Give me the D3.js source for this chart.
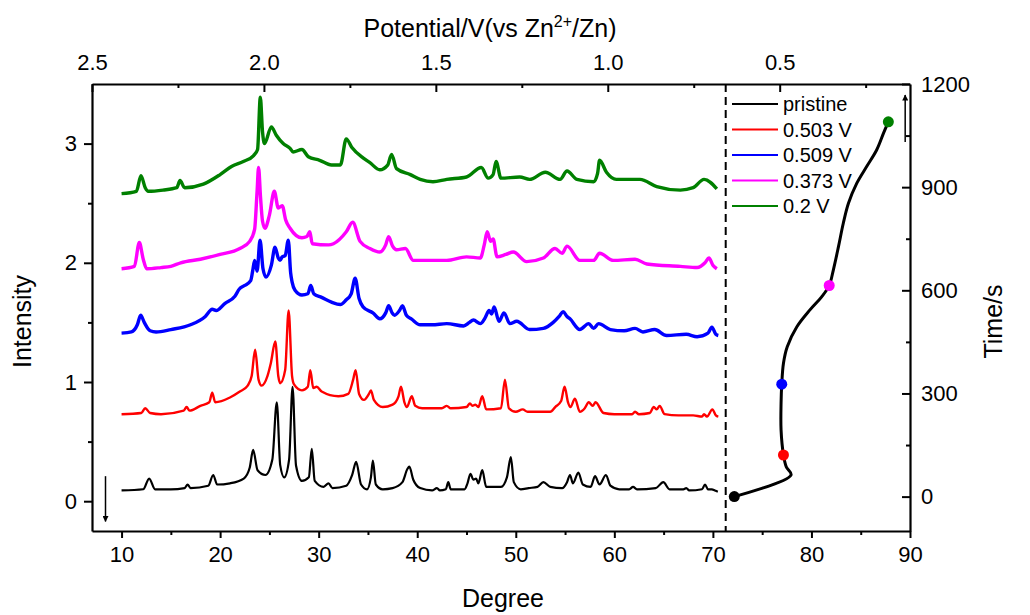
<!DOCTYPE html>
<html>
<head>
<meta charset="utf-8">
<script src="https://cdn.jsdelivr.net/npm/d3@7"></script>
<style>
  html, body { margin: 0; padding: 0; background: #fff; }
  svg { display: block; font-family: "Liberation Sans", Arial, sans-serif; }
</style>
</head>
<body>
<svg id="chart" width="1030" height="615"></svg>
<script>
// ---------------- DATA ----------------
const seriesNames = ["pristine", "0.503 V", "0.509 V", "0.373 V", "0.2 V"];
const seriesColors = ["#000000", "#ff0000", "#0000ff", "#ff00ff", "#008000"];

// [degree, intensity]
const pristine = [[10,0.09],[12.2,0.10],[12.8,0.19],[13.4,0.10],[15,0.10],[16.4,0.11],[16.7,0.14],[17,0.11],[18.8,0.13],[19.3,0.22],[19.7,0.14],[21,0.15],[22.4,0.19],[23.0,0.28],[23.35,0.43],[23.8,0.26],[24.6,0.22],[25.3,0.35],[25.75,0.83],[26.1,0.30],[26.5,0.20],[27.0,0.35],[27.35,0.96],[27.7,0.30],[28.3,0.17],[29.0,0.20],[29.3,0.44],[29.6,0.17],[30.5,0.12],[31.0,0.15],[31.4,0.11],[32.8,0.13],[33.4,0.22],[33.8,0.33],[34.3,0.14],[34.9,0.10],[35.3,0.20],[35.5,0.34],[35.8,0.14],[36.5,0.10],[37.5,0.11],[38.5,0.16],[39.0,0.27],[39.2,0.29],[39.6,0.18],[40.3,0.11],[41.5,0.09],[42.0,0.11],[42.3,0.09],[42.9,0.10],[43.15,0.16],[43.4,0.10],[44.8,0.10],[45.1,0.15],[45.4,0.23],[45.7,0.18],[45.97,0.19],[46.2,0.15],[46.6,0.26],[47.0,0.12],[48.5,0.12],[49.1,0.20],[49.5,0.37],[49.8,0.16],[50.5,0.10],[51.3,0.11],[52.2,0.12],[52.8,0.16],[53.5,0.12],[54.7,0.11],[55.2,0.16],[55.5,0.22],[55.8,0.15],[56.35,0.24],[56.8,0.14],[57.6,0.12],[58.04,0.21],[58.5,0.14],[59.15,0.22],[59.6,0.13],[60.5,0.10],[61.5,0.10],[61.9,0.12],[62.3,0.10],[64.2,0.11],[64.97,0.16],[65.6,0.10],[67.0,0.10],[67.3,0.11],[67.6,0.09],[68.9,0.10],[69.2,0.14],[69.5,0.10],[69.9,0.10],[70.2,0.09],[70.5,0.08]];

const v0503 = [[10,0.73],[12.0,0.74],[12.4,0.78],[12.9,0.74],[14,0.73],[16.3,0.76],[16.6,0.79],[16.9,0.76],[18.0,0.80],[18.9,0.83],[19.2,0.91],[19.5,0.83],[21.0,0.87],[22.0,0.92],[22.8,0.97],[23.2,1.05],[23.55,1.27],[23.9,1.02],[24.2,0.97],[24.8,1.05],[25.15,1.16],[25.6,1.34],[25.9,1.05],[26.1,0.99],[26.6,1.10],[26.95,1.60],[27.3,1.05],[27.5,0.98],[28.3,0.93],[28.9,0.96],[29.15,1.10],[29.45,0.95],[29.8,0.96],[30.3,0.92],[32.0,0.88],[33.0,0.90],[33.5,1.02],[33.75,1.10],[34.1,0.90],[34.6,0.85],[35.1,0.90],[35.3,0.93],[35.6,0.85],[36.5,0.79],[37.5,0.81],[38.1,0.88],[38.35,0.96],[38.7,0.83],[38.95,0.79],[39.45,0.88],[39.8,0.80],[40.5,0.78],[42.5,0.78],[43.0,0.80],[43.4,0.78],[45.0,0.79],[45.35,0.82],[45.6,0.80],[45.9,0.81],[46.2,0.79],[46.6,0.88],[47.0,0.77],[48.5,0.78],[48.9,1.02],[49.3,0.78],[50.0,0.75],[50.7,0.77],[51.2,0.75],[53.5,0.75],[54.0,0.79],[54.6,0.84],[54.95,0.96],[55.3,0.83],[55.55,0.79],[56.0,0.86],[56.5,0.75],[57.0,0.78],[57.4,0.83],[57.8,0.80],[58.1,0.83],[58.9,0.74],[60.0,0.73],[61.8,0.73],[62.1,0.75],[62.5,0.73],[63.6,0.74],[64.0,0.79],[64.3,0.77],[64.6,0.80],[65.1,0.73],[66.5,0.72],[68.0,0.72],[68.9,0.71],[69.1,0.73],[69.4,0.71],[69.95,0.77],[70.3,0.72],[70.55,0.71]];

const v0509 = [[10,1.41],[11.0,1.42],[11.6,1.48],[11.94,1.56],[12.3,1.50],[12.9,1.43],[13.5,1.42],[15,1.44],[17,1.48],[18.5,1.55],[19.2,1.61],[19.6,1.60],[20.5,1.66],[21.5,1.72],[21.95,1.78],[22.5,1.81],[23.1,1.85],[23.3,1.93],[23.5,2.02],[23.75,1.93],[24.05,2.19],[24.35,1.95],[24.66,1.88],[25.2,1.98],[25.57,2.13],[25.9,2.04],[26.08,2.02],[26.3,2.05],[26.6,2.06],[26.92,2.19],[27.15,1.92],[27.3,1.84],[27.6,1.77],[28.3,1.73],[28.9,1.74],[29.2,1.81],[29.5,1.74],[30.3,1.71],[31.3,1.67],[32.2,1.65],[32.8,1.69],[33.3,1.74],[33.7,1.87],[34.1,1.70],[34.5,1.63],[35.5,1.58],[36.2,1.53],[36.8,1.58],[37.1,1.64],[37.45,1.58],[37.7,1.56],[38.2,1.60],[38.5,1.64],[38.9,1.56],[39.4,1.53],[40.3,1.48],[41.5,1.48],[43.0,1.49],[44.7,1.47],[45.3,1.50],[45.7,1.52],[46.4,1.49],[46.9,1.54],[47.3,1.60],[47.55,1.57],[47.8,1.63],[48.3,1.51],[48.8,1.58],[49.4,1.49],[50.1,1.51],[51.4,1.44],[52.8,1.45],[53.8,1.50],[54.4,1.55],[54.8,1.59],[55.2,1.55],[55.5,1.53],[56.5,1.44],[57.4,1.49],[57.9,1.45],[58.4,1.49],[59.6,1.44],[61.0,1.43],[62.1,1.45],[62.9,1.42],[64.1,1.44],[65.3,1.39],[67.3,1.40],[68.4,1.38],[69.5,1.41],[69.9,1.46],[70.3,1.40],[70.55,1.39]];

const v0373 = [[10,1.95],[11.3,1.97],[11.8,2.17],[12.2,2.03],[12.55,1.95],[14,1.96],[15,1.97],[16,2.00],[18,2.03],[20,2.07],[22,2.12],[23.0,2.18],[23.5,2.28],[23.75,2.60],[23.9,2.80],[24.1,2.55],[24.3,2.35],[24.55,2.29],[25.0,2.40],[25.5,2.60],[25.9,2.46],[26.3,2.48],[26.65,2.36],[27.1,2.29],[28.3,2.21],[28.8,2.22],[29.1,2.26],[29.35,2.16],[31.0,2.15],[31.5,2.16],[32.8,2.26],[33.45,2.34],[34.2,2.18],[35.2,2.12],[36.2,2.09],[36.8,2.15],[37.1,2.22],[37.5,2.14],[37.9,2.11],[38.8,2.12],[39.6,2.02],[41.0,2.02],[43.0,2.02],[45.0,2.05],[46.4,2.04],[46.8,2.15],[47.1,2.26],[47.45,2.18],[47.7,2.20],[48.1,2.05],[49.0,2.07],[49.75,2.09],[51.1,2.01],[52.8,2.04],[53.98,2.12],[54.7,2.08],[55.2,2.14],[56.5,2.02],[57.9,2.02],[58.5,2.08],[59.9,2.02],[62.1,2.03],[63.3,1.99],[66.7,1.97],[68.4,1.96],[69.2,2.00],[69.6,2.04],[70.0,1.98],[70.4,1.95]];

const v02 = [[10,2.58],[11.5,2.60],[11.97,2.73],[12.4,2.63],[12.7,2.60],[14.2,2.61],[15.6,2.63],[15.93,2.69],[16.4,2.63],[18.3,2.66],[20.0,2.74],[21.2,2.81],[22.35,2.85],[23.4,2.90],[23.8,2.95],[24.08,3.39],[24.3,3.10],[24.5,3.00],[25.2,3.14],[25.7,3.07],[26.4,3.00],[27.1,2.96],[27.4,2.93],[28.3,2.95],[28.95,2.89],[30.1,2.86],[31.3,2.82],[32.2,2.82],[32.8,3.04],[33.35,2.97],[34.5,2.88],[35.2,2.84],[36.2,2.78],[37.0,2.82],[37.4,2.91],[37.9,2.79],[39.3,2.74],[40.3,2.70],[41.6,2.68],[43.0,2.70],[45.0,2.72],[46.5,2.80],[47.2,2.71],[47.7,2.74],[48.0,2.85],[48.5,2.71],[50.4,2.72],[51.4,2.70],[53.0,2.76],[54.5,2.70],[55.2,2.77],[56.2,2.70],[57.9,2.68],[58.3,2.75],[58.5,2.86],[59.2,2.76],[60.2,2.70],[62.6,2.70],[64.3,2.64],[66.7,2.61],[68.0,2.63],[69.1,2.70],[70.4,2.62]];

const spectra = [pristine, v0503, v0509, v0373, v02];

// Potential (V) vs time (s) curve, read on the top and right axes
const curvePotential = [0.632,0.467,0.481,0.489,0.496,0.496,0.494,0.489,0.478,0.450,0.412,0.378,0.356,0.344,0.329,0.315,0.300,0.276,0.247,0.218,0.198,0.184];
const curveTime      = [0,63,87,121,194,271,327,388,436,494,543,581,614,659,727,795,853,911,960,1008,1057,1090];
// Sampling markers: index into curve arrays, one per series colour
const markerIndex = [0, 3, 6, 12, 21];

// Axis tick labels
const bottomTicks = [10,20,30,40,50,60,70,80,90];
const leftTicks = [0,1,2,3];
const topTicks = [2.5,2.0,1.5,1.0,0.5];
const rightTicks = [0,300,600,900,1200];

// ---------------- LAYOUT ----------------
const svg = d3.select("#chart");
const L = 92, R = 910, T = 84, B = 531;
const FONT = "'Liberation Sans', Arial, sans-serif";

const x = d3.scaleLinear().domain([7, 90]).range([L, R]);
const y = d3.scaleLinear().domain([-0.25, 3.5]).range([B, T]);
const xTop = d3.scaleLinear().domain([2.5, 0.121]).range([L, R]);
const yRight = d3.scaleLinear().domain([-100, 1200]).range([B, T]);

// ---- spectra ----
const line = d3.line().x(d => x(d[0])).y(d => y(d[1])).curve(d3.curveMonotoneX);
const widths = [2.2, 2.4, 3.4, 3.4, 3.4];
spectra.forEach((s, i) => {
  svg.append("path").datum(s)
    .attr("d", line)
    .attr("fill", "none")
    .attr("stroke", seriesColors[i])
    .attr("stroke-width", widths[i])
    .attr("stroke-linejoin", "round");
});

// ---- dashed separator ----
svg.append("line")
  .attr("x1", x(71.3)).attr("x2", x(71.3))
  .attr("y1", T).attr("y2", B)
  .attr("stroke", "#000").attr("stroke-width", 2)
  .attr("stroke-dasharray", "8,5");

// ---- potential-time curve ----
const curveData = curvePotential.map((v, i) => [v, curveTime[i]]);
const cline = d3.line().x(d => xTop(d[0])).y(d => yRight(d[1])).curve(d3.curveCatmullRom.alpha(0.5));
svg.append("path").datum(curveData)
  .attr("d", cline).attr("fill", "none")
  .attr("stroke", "#000").attr("stroke-width", 3);
markerIndex.forEach((mi, i) => {
  svg.append("circle")
    .attr("cx", xTop(curvePotential[mi]))
    .attr("cy", yRight(curveTime[mi]))
    .attr("r", 5.5)
    .attr("fill", seriesColors[i]);
});

// ---- arrows ----
const defs = svg.append("defs");
defs.append("marker").attr("id", "ah")
  .attr("viewBox", "0 0 10 10").attr("refX", 9).attr("refY", 5)
  .attr("markerWidth", 10).attr("markerHeight", 6).attr("markerUnits", "userSpaceOnUse")
  .attr("orient", "auto")
  .append("path").attr("d", "M0,0 L10,5 L0,10 Z").attr("fill", "#000");
svg.append("line")
  .attr("x1", x(8.37)).attr("x2", x(8.37))
  .attr("y1", y(0.21)).attr("y2", y(-0.17))
  .attr("stroke", "#000").attr("stroke-width", 1.5).attr("marker-end", "url(#ah)");
svg.append("line")
  .attr("x1", xTop(0.135)).attr("x2", xTop(0.135))
  .attr("y1", yRight(1031)).attr("y2", yRight(1168))
  .attr("stroke", "#000").attr("stroke-width", 1.5).attr("marker-end", "url(#ah)");

// ---- axes ----
function styleAxis(g) {
  g.selectAll("path.domain").attr("stroke", "#000").attr("stroke-width", 2.2);
  g.selectAll(".tick line").attr("stroke", "#000").attr("stroke-width", 2);
  g.selectAll(".tick text").attr("fill", "#000").attr("font-family", FONT).attr("font-size", 22);
}
function minor(g, axis) {
  g.call(axis);
  g.selectAll("text").remove();
  g.select("path.domain").remove();
  g.selectAll(".tick line").attr("stroke", "#000").attr("stroke-width", 2);
}

svg.append("g").attr("transform", `translate(0,${B})`)
  .call(g => minor(g, d3.axisBottom(x).tickValues(d3.range(15, 90, 10)).tickSize(4)));
svg.append("g").attr("transform", `translate(${L},0)`)
  .call(g => minor(g, d3.axisLeft(y).tickValues([0.5, 1.5, 2.5]).tickSize(4)));
svg.append("g").attr("transform", `translate(0,${T})`)
  .call(g => minor(g, d3.axisBottom(xTop).tickValues([2.25, 1.75, 1.25, 0.75, 0.25]).tickSize(4)));
svg.append("g").attr("transform", `translate(${R},0)`)
  .call(g => minor(g, d3.axisLeft(yRight).tickValues([150, 450, 750, 1050]).tickSize(4)));

const gB = svg.append("g").attr("transform", `translate(0,${B})`)
  .call(d3.axisBottom(x).tickValues(bottomTicks).tickSize(7).tickPadding(8).tickSizeOuter(0).tickFormat(d3.format("d")));
styleAxis(gB);

const gL = svg.append("g").attr("transform", `translate(${L},0)`)
  .call(d3.axisLeft(y).tickValues(leftTicks).tickSize(8).tickPadding(7).tickSizeOuter(0).tickFormat(d3.format("d")));
styleAxis(gL);

const gT = svg.append("g").attr("transform", `translate(0,${T})`)
  .call(d3.axisTop(xTop).tickValues(topTicks).tickSize(-8).tickSizeOuter(0).tickFormat(d3.format(".1f")));
styleAxis(gT);
gT.selectAll(".tick text").attr("y", -14).attr("dy", "0");

const gR = svg.append("g").attr("transform", `translate(${R},0)`)
  .call(d3.axisRight(yRight).tickValues(rightTicks).tickSize(-8).tickSizeOuter(0).tickFormat(d3.format("d")));
styleAxis(gR);
gR.selectAll(".tick text").attr("x", 11);

// ---- axis titles ----
svg.append("text").attr("x", (L + R) / 2 + 2).attr("y", 607)
  .attr("text-anchor", "middle").attr("font-family", FONT).attr("font-size", 25)
  .text("Degree");

svg.append("text")
  .attr("transform", `translate(31,${(T + B) / 2 + 14}) rotate(-90)`)
  .attr("text-anchor", "middle").attr("font-family", FONT).attr("font-size", 25)
  .text("Intensity");

svg.append("text")
  .attr("transform", `translate(1002,${(T + B) / 2 + 14}) rotate(-90)`)
  .attr("text-anchor", "middle").attr("font-family", FONT).attr("font-size", 25)
  .text("Time/s");

const tt = svg.append("text").attr("x", (L + R) / 2 - 11).attr("y", 37)
  .attr("text-anchor", "middle").attr("font-family", FONT).attr("font-size", 25);
tt.append("tspan").text("Potential/V(vs Zn");
tt.append("tspan").attr("font-size", 16).attr("dy", -10).text("2+");
tt.append("tspan").attr("dy", 10).text("/Zn)");

// ---- legend ----
const lg = svg.append("g");
seriesNames.forEach((n, i) => {
  const yy = 104 + i * 25.5;
  lg.append("line").attr("x1", 732).attr("x2", 778).attr("y1", yy).attr("y2", yy)
    .attr("stroke", seriesColors[i]).attr("stroke-width", 2);
  lg.append("text").attr("x", 783).attr("y", yy).attr("dy", "0.35em")
    .attr("font-family", FONT).attr("font-size", 20).text(n);
});
</script>
</body>
</html>
